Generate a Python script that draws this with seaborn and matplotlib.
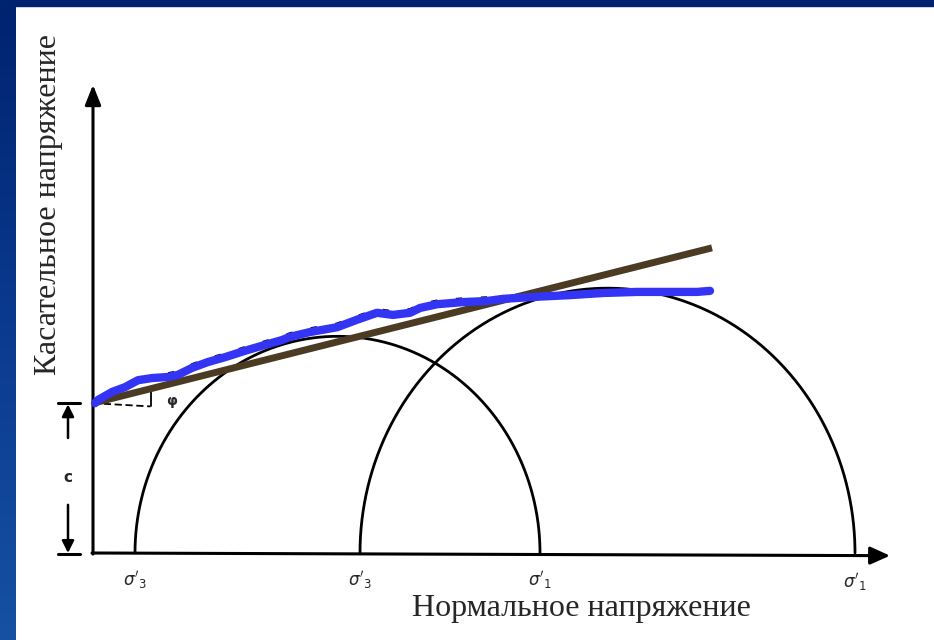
import numpy as np
import pandas as pd
import matplotlib
matplotlib.use("Agg")
import matplotlib.pyplot as plt
from matplotlib.patches import Rectangle
from matplotlib.colors import LinearSegmentedColormap
import seaborn as sns

# Круги Мора (в условных единицах)
sigma3 = [0.84, 5.34]
sigma1 = [8.94, 15.24]
circle_labels_3 = [r"$\sigma'_3$", r"$\sigma'_3$"]
circle_labels_1 = [r"$\sigma'_1$", r"$\sigma'_1$"]

# Огибающая Кулона
cohesion = 2.8
phi_deg = 13.2
envelope_end = 12.38

# Криволинейная огибающая (синяя)
env_x = [0.04, 0.10, 0.38, 0.64, 0.90, 1.18, 1.50, 1.70, 1.98, 2.30, 2.64,
         3.04, 3.44, 3.78, 3.94, 4.34, 4.88, 5.28, 5.68, 6.00, 6.34, 6.54,
         6.88, 7.40, 7.88, 8.20, 8.88, 9.54, 10.20, 10.88, 11.54, 12.08, 12.34]
env_y = [2.80, 2.86, 3.01, 3.10, 3.23, 3.27, 3.29, 3.33, 3.46, 3.57, 3.66,
         3.78, 3.89, 3.98, 4.04, 4.13, 4.22, 4.36, 4.49, 4.45, 4.49, 4.58,
         4.65, 4.69, 4.71, 4.75, 4.79, 4.82, 4.86, 4.88, 4.88, 4.88, 4.90]

x_label = "Нормальное напряжение"
y_label = "Касательное напряжение"

sns.set_theme(style="white")
plt.rcParams['font.family'] = ['Liberation Serif', 'DejaVu Serif']

W, H = 934, 640
fig = plt.figure(figsize=(W / 100, H / 100), dpi=100)
fig.patch.set_facecolor("white")
ax = fig.add_axes([0, 0, 1, 1])
ax.set_xlim(-93 / 50, (W - 93) / 50)
ax.set_ylim(-(H - 553) / 53.5, 553 / 53.5)
ax.axis("off")

ink = "black"

# оси
ax.annotate("", xy=(0, 8.75), xytext=(0, -0.02),
            arrowprops=dict(arrowstyle="-|>,head_length=1.0,head_width=0.4",
                            color=ink, lw=2.2, shrinkA=0, shrinkB=0))
ax.annotate("", xy=(15.94, -0.05), xytext=(-0.02, 0),
            arrowprops=dict(arrowstyle="-|>,head_length=1.0,head_width=0.45",
                            color=ink, lw=2.2, shrinkA=0, shrinkB=0))

# полуокружности
t = np.linspace(0, np.pi, 200)
for s3, s1 in zip(sigma3, sigma1):
    cx, r = (s1 + s3) / 2, (s1 - s3) / 2
    df = pd.DataFrame({"x": cx - r * np.cos(t), "y": r * np.sin(t)})
    sns.lineplot(data=df, x="x", y="y", sort=False, color=ink, lw=2.0, ax=ax)

# подписи напряжений
for s, lab in zip(sigma3, circle_labels_3):
    ax.text(s, -0.5, lab, ha="center", va="center", fontsize=12,
            family="DejaVu Sans", fontweight="bold")
for s, lab in zip(sigma1, circle_labels_1):
    ax.text(s, -0.5 if s < 10 else -0.55, lab, ha="center", va="center",
            fontsize=12, family="DejaVu Sans", fontweight="bold")

# прямая огибающая
lx = np.array([0.0, envelope_end])
ly = cohesion + np.tan(np.radians(phi_deg)) * lx
ax.plot(lx, ly, color="#4a3b22", lw=5.0, solid_capstyle="butt", zorder=3)

# угол φ
ax.plot([0, 1.15], [cohesion, cohesion - 0.06], color=ink, lw=1.3,
        ls=(0, (4, 2)), zorder=2)
ax.plot([1.15, 1.15], [cohesion - 0.06, cohesion + 0.22], color=ink, lw=1.3)
ax.text(1.58, cohesion + 0.05, "φ", fontsize=10, ha="center", va="center",
        family="DejaVu Sans", fontweight="bold")

# исходная штриховая кривая (местами проступает над синей)
ax.plot(env_x[6:26], [v + 0.07 for v in env_y[6:26]], color=ink, lw=1.5,
        ls=(0, (3, 9)), zorder=3.5)

# синяя огибающая
sns.lineplot(x=env_x, y=env_y, sort=False, color="#3434f5", lw=6.0, ax=ax,
             zorder=4)
ax.lines[-1].set_solid_capstyle("round")
ax.lines[-1].set_solid_joinstyle("round")

# размер c
xc = -0.5
ax.plot([xc - 0.2, xc + 0.24], [cohesion, cohesion], color=ink, lw=2.2)
ax.plot([xc - 0.2, xc + 0.24], [-0.02, -0.02], color=ink, lw=2.2)
ax.annotate("", xy=(xc, cohesion - 0.02), xytext=(xc, 2.15),
            arrowprops=dict(arrowstyle="-|>,head_length=0.6,head_width=0.3",
                            color=ink, lw=1.8, shrinkA=0, shrinkB=0))
ax.annotate("", xy=(xc, 0.0), xytext=(xc, 0.9),
            arrowprops=dict(arrowstyle="-|>,head_length=0.6,head_width=0.3",
                            color=ink, lw=1.8, shrinkA=0, shrinkB=0))
ax.text(xc, 1.41, "c", fontsize=11, ha="center", va="center",
        family="DejaVu Sans", fontweight="bold")

# подписи осей
ax.text(9.76, -1.03, x_label, fontsize=23, ha="center", va="center")
ax.text(-0.88, 6.52, y_label, fontsize=23, ha="center", va="center",
        rotation=90)

# рамка слайда
fig.patches.append(Rectangle((0, 1 - 6 / H), 1, 6 / H, transform=fig.transFigure,
                             color="#00236f", zorder=10))
side = fig.add_axes([0, 0, 16 / W, 1 - 6 / H])
grad = LinearSegmentedColormap.from_list("slide", ["#00236f", "#0a3a8f", "#1651a3"])
side.imshow(np.linspace(0, 1, 256).reshape(-1, 1), aspect="auto", cmap=grad)
side.axis("off")

fig.savefig("out.png", dpi=100, facecolor=fig.get_facecolor())
